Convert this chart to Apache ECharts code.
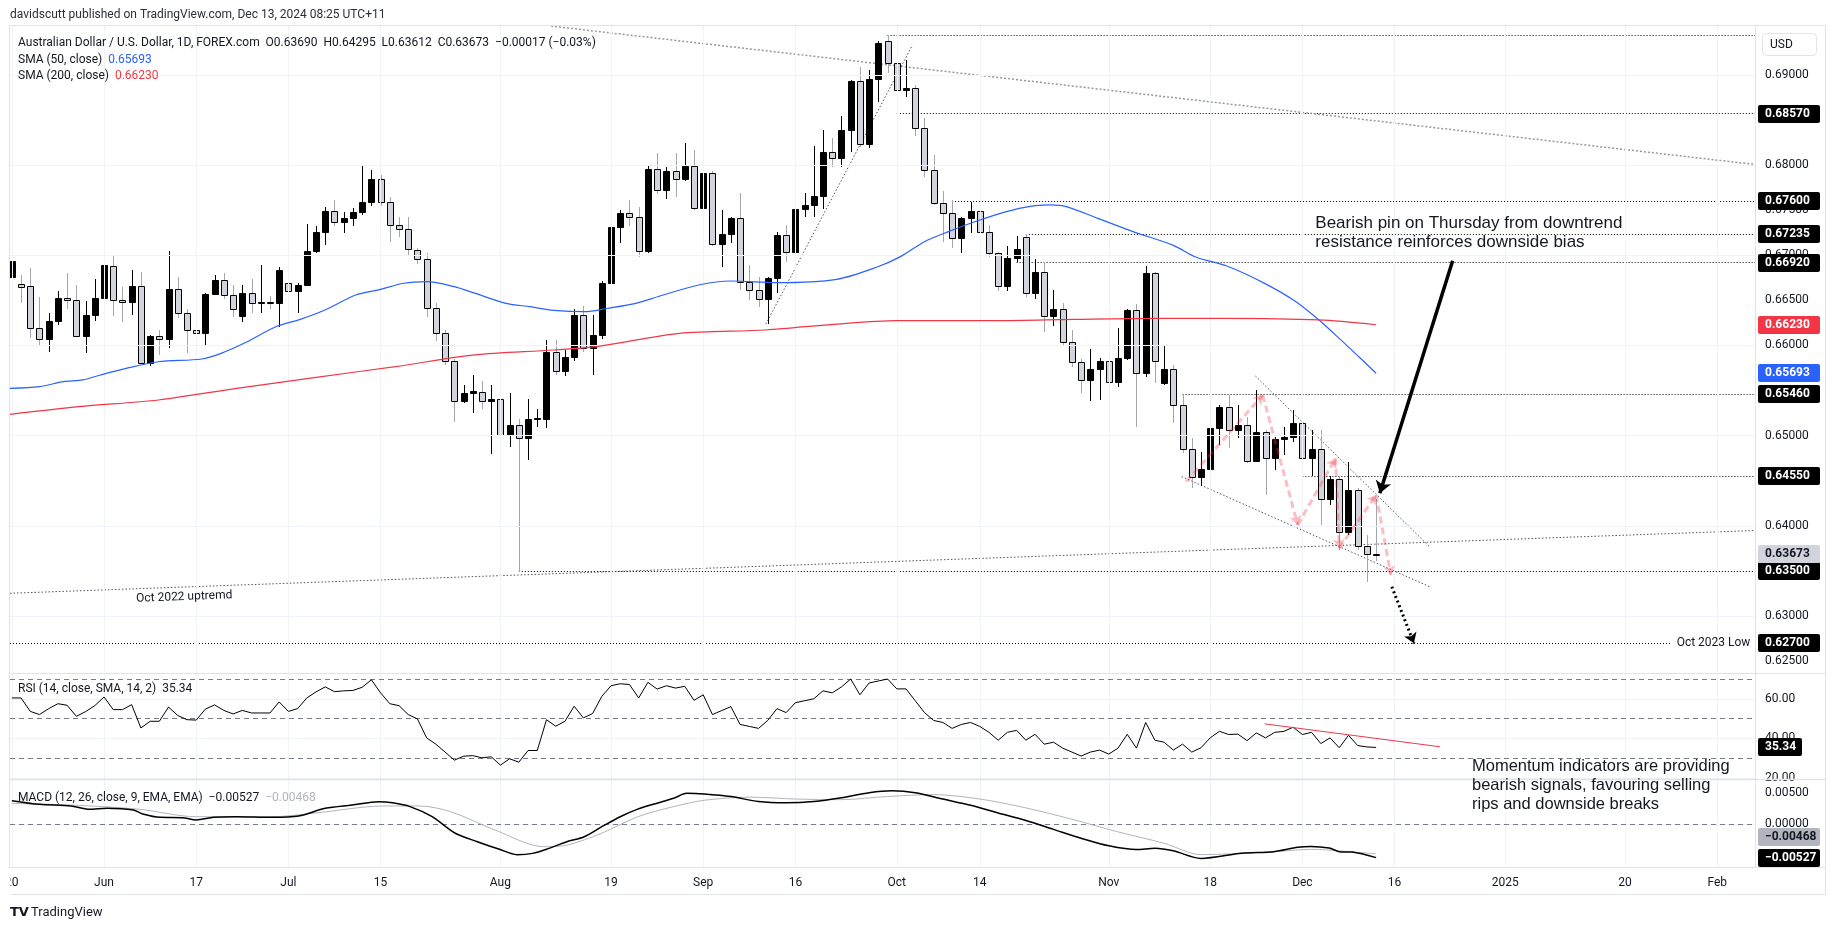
<!DOCTYPE html>
<html>
<head>
<meta charset="utf-8">
<script src="https://cdn.jsdelivr.net/npm/echarts@6/dist/echarts.min.js"></script>
<style>
html,body{margin:0;padding:0;background:#ffffff;}
#chart{width:1835px;height:931px;}
</style>
</head>
<body>
<div id="chart"></div>
<script>
// ---------------- DATA ----------------
// bar index 0 = Mon 3 Jun 2024 ; first visible bar = Mon 20 May 2024
const firstBar = -10;
const openP = [
0.6676,0.6668,0.6666,0.6619,0.6607,0.6627,0.6653,0.6650,0.6611,0.6634,
0.6653,0.6688,0.6650,0.6648,0.6666,0.6581,0.6610,0.6607,0.6663,0.6636,
0.6617,0.6614,0.6657,0.6673,0.6656,0.6633,0.6658,0.6647,0.6648,0.6647,
0.6669,0.6660,0.6667,0.6705,0.6726,0.6749,0.6737,0.6741,0.6748,0.6759,
0.6785,0.6759,0.6734,0.6729,0.6706,0.6696,0.6642,0.6614,0.6583,0.6538,
0.6547,0.6549,0.6538,0.6541,0.6501,0.6512,0.6497,0.6518,0.6519,0.6593,
0.6572,0.6587,0.6634,0.6597,0.6612,0.6669,0.6731,0.6747,0.6743,0.6705,
0.6796,0.6772,0.6794,0.6785,0.6799,0.6752,0.6791,0.6712,0.6724,0.6741,
0.6670,0.6662,0.6652,0.6675,0.6722,0.6704,0.6751,0.6756,0.6766,0.6814,
0.6808,0.6839,0.6893,0.6823,0.6896,0.6938,0.6913,0.6883,0.6885,0.6841,
0.6795,0.6758,0.6747,0.6719,0.6741,0.6749,0.6726,0.6703,0.6666,0.6697,
0.6720,0.6658,0.6682,0.6633,0.6640,0.6604,0.6582,0.6562,0.6574,0.6583,
0.6559,0.6586,0.6639,0.6570,0.6680,0.6558,0.6574,0.6534,0.6485,0.6454,
0.6463,0.6508,0.6532,0.6506,0.6512,0.6472,0.6504,0.6475,0.6496,0.6499,
0.6514,0.6475,0.6485,0.6430,0.6452,0.6393,0.6440,0.6378,0.63690];
const highP = [
0.6697,0.6678,0.6686,0.6654,0.6636,0.6660,0.6680,0.6667,0.6649,0.6674,
0.6695,0.6699,0.6665,0.6684,0.6681,0.6612,0.6617,0.6705,0.6676,0.6641,
0.6628,0.6658,0.6678,0.6680,0.6667,0.6667,0.6674,0.6689,0.6655,0.6687,
0.6689,0.6669,0.6735,0.6733,0.6754,0.6761,0.6748,0.6752,0.6799,0.6795,
0.6789,0.6765,0.6743,0.6743,0.6708,0.6702,0.6647,0.6617,0.6585,0.6556,
0.6567,0.6561,0.6556,0.6560,0.6547,0.6519,0.6541,0.6530,0.6606,0.6606,
0.6595,0.6640,0.6644,0.6634,0.6671,0.6735,0.6750,0.6761,0.6753,0.6799,
0.6813,0.6798,0.6813,0.6824,0.6817,0.6795,0.6793,0.6750,0.6743,0.6769,
0.6689,0.6676,0.6676,0.6726,0.6734,0.6754,0.6769,0.6821,0.6839,0.6830,
0.6854,0.6894,0.6909,0.6905,0.6938,0.6944,0.6925,0.6917,0.6889,0.6852,
0.6811,0.6771,0.6761,0.6743,0.6759,0.6754,0.6734,0.6704,0.6710,0.6721,
0.6724,0.6696,0.6693,0.6662,0.6647,0.6617,0.6585,0.6596,0.6586,0.6586,
0.6619,0.6641,0.6646,0.6688,0.6682,0.6599,0.6578,0.6546,0.6497,0.6482,
0.6512,0.6534,0.6545,0.6534,0.6521,0.6551,0.6506,0.6499,0.6510,0.6529,
0.6516,0.6506,0.6506,0.6455,0.6455,0.6471,0.6442,0.6390,0.64295];
const lowP = [
0.6668,0.6647,0.6608,0.6599,0.6593,0.6623,0.6640,0.6609,0.6592,0.6627,
0.6633,0.6633,0.6626,0.6634,0.6580,0.6577,0.6589,0.6597,0.6630,0.6592,
0.6586,0.6601,0.6656,0.6652,0.6632,0.6626,0.6636,0.6636,0.6640,0.6621,
0.6655,0.6636,0.6666,0.6703,0.6711,0.6733,0.6725,0.6733,0.6745,0.6755,
0.6755,0.6715,0.6720,0.6699,0.6690,0.6632,0.6605,0.6578,0.6515,0.6536,
0.6525,0.6530,0.6480,0.6490,0.6488,0.6349,0.6473,0.6510,0.6508,0.6567,
0.6566,0.6583,0.6593,0.6567,0.6607,0.6660,0.6714,0.6732,0.6698,0.6702,
0.6768,0.6762,0.6765,0.6782,0.6750,0.6750,0.6710,0.6687,0.6714,0.6661,
0.6650,0.6643,0.6624,0.6658,0.6693,0.6700,0.6742,0.6742,0.6751,0.6798,
0.6798,0.6815,0.6820,0.6819,0.6870,0.6902,0.6857,0.6876,0.6832,0.6787,
0.6756,0.6715,0.6708,0.6702,0.6725,0.6703,0.6698,0.6660,0.6660,0.6693,
0.6654,0.6652,0.6615,0.6622,0.6600,0.6576,0.6547,0.6538,0.6540,0.6554,
0.6554,0.6584,0.6510,0.6565,0.6558,0.6556,0.6514,0.6481,0.6442,0.6444,
0.6449,0.6490,0.6486,0.6497,0.6470,0.6471,0.6434,0.6462,0.6479,0.6493,
0.6443,0.6455,0.6401,0.6423,0.6373,0.6390,0.6373,0.6338,0.63612];
const closeP = [
0.6694,0.6665,0.6619,0.6607,0.6627,0.6653,0.6650,0.6611,0.6634,0.6653,
0.6689,0.6650,0.6648,0.6666,0.6581,0.6610,0.6607,0.6663,0.6636,0.6617,
0.6614,0.6657,0.6673,0.6656,0.6641,0.6658,0.6647,0.6648,0.6647,0.6684,
0.6660,0.6667,0.6705,0.6726,0.6749,0.6737,0.6741,0.6748,0.6759,0.6785,
0.6759,0.6734,0.6729,0.6707,0.6696,0.6642,0.6614,0.6583,0.6538,0.6547,
0.6550,0.6538,0.6541,0.6501,0.6512,0.6497,0.6519,0.6520,0.6593,0.6572,
0.6587,0.6634,0.6597,0.6612,0.6669,0.6731,0.6747,0.6743,0.6705,0.6796,
0.6772,0.6794,0.6785,0.6799,0.6752,0.6791,0.6712,0.6724,0.6741,0.6670,
0.6662,0.6652,0.6675,0.6722,0.6704,0.6751,0.6756,0.6766,0.6815,0.6808,
0.6839,0.6893,0.6823,0.6896,0.6935,0.6913,0.6883,0.6885,0.6841,0.6795,
0.6758,0.6747,0.6719,0.6741,0.6749,0.6726,0.6703,0.6666,0.6697,0.6707,
0.6658,0.6682,0.6633,0.6640,0.6604,0.6582,0.6562,0.6574,0.6583,0.6559,
0.6586,0.6639,0.6570,0.6680,0.6583,0.6574,0.6534,0.6485,0.6454,0.6463,
0.6508,0.6532,0.6506,0.6512,0.6472,0.6504,0.6475,0.6496,0.6499,0.6514,
0.6475,0.6485,0.6430,0.6452,0.6393,0.6440,0.6378,0.6369,0.63673];

// moving averages, read as [bar, value]
const sma50 = [[-10.2,0.65525],[-7,0.65544],[-4.4,0.6560],[-2.3,0.65618],[-0.5,0.6567],[2.4,0.65747],[5.9,0.6582],[10.6,0.6585],[12.7,0.65913],[15.3,0.6603],[18.7,0.6621],[21.3,0.6629],[23.9,0.6639],[27.3,0.6656],[29.9,0.6662],[32.5,0.6669],[35,0.66708],[38,0.66652],[40.2,0.6658],[43.6,0.66467],[46.2,0.6643],[48.8,0.6639],[52.2,0.66375],[54.5,0.6641],[57.7,0.66467],[60.3,0.66549],[64.5,0.66671],[68,0.66715],[73.1,0.66697],[79.5,0.66734],[83.8,0.66867],[86.4,0.66985],[89,0.67151],[91.6,0.67262],[95,0.67391],[99.3,0.6752],[102.7,0.67558],[104.4,0.6754],[107.8,0.6741],[111.7,0.6726],[116,0.6711],[118.5,0.66978],[121.8,0.66881],[125.9,0.66689],[129.3,0.66486],[131.8,0.66283],[134.2,0.6606],[136.3,0.65858],[138,0.65693]];
const sma200 = [[-10.2,0.65237],[-2.7,0.65322],[5.9,0.65396],[14.4,0.65525],[23,0.65647],[31.6,0.65766],[40.2,0.65895],[48.8,0.6595],[53.8,0.65994],[62.4,0.66135],[71.8,0.66172],[79.5,0.66238],[86,0.66275],[96.7,0.66275],[105.3,0.6629],[113.9,0.66301],[121.8,0.66301],[131.8,0.66283],[138,0.6623]];

// RSI(14) one value per bar
const rsiVals = [
60.4,60.4,53.6,52.0,55.0,57.5,56.7,51.1,53.5,56.5,
60.9,54.5,54.5,57.0,45.2,48.6,48.6,55.8,51.5,49.4,
49.2,54.8,56.9,54.1,52.3,54.1,52.8,52.8,52.8,58.4,
53.6,55.0,60.4,63.5,66.0,63.6,64.0,64.2,65.8,69.6,
63.0,57.5,56.5,52.0,49.8,40.2,37.0,33.0,28.9,30.9,
31.2,30.1,30.6,26.4,29.6,27.9,33.8,33.8,49.4,46.1,
48.6,56.2,50.3,52.5,61.2,66.6,67.6,67.2,60.4,68.3,
64.9,66.6,65.4,66.3,59.2,62.0,52.0,54.0,56.0,47.0,
46.0,45.0,49.0,55.0,53.0,58.0,59.0,60.0,64.0,63.0,
66.0,70.0,62.0,68.0,69.0,70.0,65.0,65.0,59.0,53.0,
49.0,48.0,45.0,47.0,48.0,46.0,43.0,39.0,43.0,44.0,
39.0,42.0,37.0,38.0,35.0,33.0,31.0,33.0,34.0,32.0,
35.0,42.0,35.0,48.0,39.0,38.0,34.0,37.0,33.0,35.2,
40.2,43.5,41.9,42.1,38.8,42.7,40.2,43.0,43.5,45.6,
41.9,43.0,37.3,40.2,35.2,41.5,36.3,35.6,35.34];

// MACD (12,26,9) line and signal, read as [bar, value]
const macdLine = [[-10,0.00374],[-7,0.00316],[-3.6,0.0029],[-1.6,0.00237],[0.3,0.00253],[3.2,0.00226],[4.2,0.00163],[6.1,0.0011],[8.5,0.00105],[10,0.00068],[11.9,0.0011],[14.3,0.0012],[18.2,0.0011],[21.1,0.0013],[24,0.00253],[26.9,0.00305],[29.8,0.00358],[31.3,0.0034],[33.2,0.0028],[35.6,0.0012],[38.1,-0.00142],[40.5,-0.00275],[42.9,-0.00396],[44.8,-0.0048],[46.5,-0.0046],[48,-0.00396],[50.2,-0.00275],[52.1,-0.00196],[54,-0.00038],[56,0.0012],[57.9,0.0024],[59.9,0.0033],[61.8,0.00411],[63.2,0.0049],[65.1,0.0048],[68,0.0044],[71,0.0036],[74,0.0034],[77,0.0036],[80,0.0042],[83,0.0050],[85.5,0.0053],[88,0.0050],[91,0.0040],[94,0.0030],[97,0.0018],[100,0.0006],[103,-0.0008],[106,-0.0022],[109,-0.0034],[112,-0.0040],[114,-0.0038],[116,-0.0042],[119,-0.0054],[123.4,-0.00459],[126.9,-0.00433],[129.5,-0.00364],[130.9,-0.0035],[132.9,-0.00375],[134,-0.00433],[135.4,-0.0044],[138,-0.00527]];
const macdSignal = [[-10,0.0033],[-3.6,0.00305],[3.7,0.0024],[10,0.0012],[18.2,0.0012],[23,0.0018],[30.3,0.0029],[34.2,0.0029],[37.6,0.0020],[42.4,-0.0009],[47.7,-0.00354],[50.2,-0.0033],[54,-0.0014],[57.9,0.0012],[61.8,0.0028],[65.1,0.0038],[70,0.0043],[75,0.0040],[80,0.0039],[85,0.0044],[90,0.0047],[95,0.0040],[100,0.0026],[105,0.0008],[110,-0.0012],[115,-0.0030],[119,-0.0048],[123.4,-0.0046],[127,-0.00433],[131,-0.00396],[134,-0.0042],[138,-0.00468]];

// axis ticks
const xTickBars = [-10,0,10,20,30,43,55,65,75,86,95,109,120,130,140,152,165,175];
const xTickLabels = ['20','Jun','17','Jul','15','Aug','19','Sep','16','Oct','14','Nov','18','Dec','16','2025','20','Feb'];
const priceTicks = [0.625,0.63,0.635,0.64,0.645,0.65,0.655,0.66,0.665,0.67,0.675,0.68,0.685,0.69];
const rsiTicks = [20,40,60];
const rsiLevels = [70,50,30];
const macdTicks = [0.005,0,-0.005];

// horizontal levels drawn by the author: price and first bar
const levelPrices = [0.6944,0.6857,0.6760,0.67235,0.6692,0.6546,0.6455,0.6350,0.6270];
const levelFrom   = [85,86,92,100,99,117,130,45,-10.2];
const levelTo     = [179.1,179.1,179.1,179.1,179.1,179.1,179.1,179.1,169.9];
const levelLabels = ['', '0.68570','0.67600','0.67235','0.66920','0.65460','0.64550','0.63500','0.62700'];

// trend lines [bar, price]
const downtrendLine = [[48.5,0.69541],[179.1,0.68007]];
const oct2022Line = [[-10.2,0.63253],[179.1,0.63949]];
const septLine = [[71.8,0.66238],[87.7,0.69331]];
const wedgeUpper = [[124.9,0.65662],[143.8,0.63769]];
const wedgeLower = [[116.9,0.64546],[143.8,0.63326]];
const zigzag = [[117.4,0.6449],[125.7,0.65451],[129.5,0.6401],[133.6,0.64749],[134.0,0.63752],[138.0,0.64343],[139.6,0.63456]];
const pinArrow = [[146.3,0.6694],[138.4,0.64361]];
const targetArrow = [[139.7,0.63326],[142.1,0.62698]];
const rsiTrend = [[125.9,47.3],[144.9,35.7]];

// ---------------- CHART ----------------
const chart = echarts.init(document.getElementById('chart'), null, {renderer:'canvas'});
const XMIN = -10.2, XMAX = 179.1;
const FONT = 'Roboto, "Noto Sans", sans-serif';
const ANN = '"Liberation Sans", Arial, sans-serif';
const GRIDC = '#f0f3fa';

const candleData = openP.map((o,k)=>[firstBar+k, o, closeP[k], lowP[k], highP[k]]);
const rsiData = rsiVals.map((v,k)=>[firstBar+k, v]);

function gridMark(yVals){
  return {silent:true, symbol:['none','none'], label:{show:false}, animation:false,
    lineStyle:{color:GRIDC, width:1, type:'solid'},
    data: xTickBars.map(v=>({xAxis:v})).concat(yVals.map(v=>({yAxis:v})))};
}
function seg(a,b){ return {coords:[a,b]}; }

const option = {
  animation:false,
  backgroundColor:'#ffffff',
  grid:[
    {left:10, top:26, width:1745, height:647},
    {left:10, top:673, width:1745, height:106},
    {left:10, top:779, width:1745, height:88}
  ],
  xAxis:[0,1,2].map(g=>({
    type:'value', gridIndex:g, min:XMIN, max:XMAX,
    axisLine:{show:false}, axisTick:{show:false}, splitLine:{show:false},
    axisLabel: g===2 ? {show:true, customValues:xTickBars,
      formatter:(v)=>{const k=xTickBars.indexOf(v); return k>=0?xTickLabels[k]:'';},
      color:'#131722', fontSize:12, fontFamily:FONT, margin:10} : {show:false}
  })),
  yAxis:[
    {type:'value', gridIndex:0, position:'right', min:0.623692, max:0.695421, scale:true,
     axisLine:{show:false}, axisTick:{show:false}, splitLine:{show:false},
     axisLabel:{customValues:priceTicks, formatter:v=>v.toFixed(5), color:'#131722', fontSize:12, fontFamily:FONT, margin:10}},
    {type:'value', gridIndex:1, position:'right', min:19.37, max:73.04,
     axisLine:{show:false}, axisTick:{show:false}, splitLine:{show:false},
     axisLabel:{customValues:rsiTicks, formatter:v=>v.toFixed(2), color:'#131722', fontSize:12, fontFamily:FONT, margin:10}},
    {type:'value', gridIndex:2, position:'right', min:-0.006756, max:0.007168,
     axisLine:{show:false}, axisTick:{show:false}, splitLine:{show:false},
     axisLabel:{customValues:macdTicks, formatter:v=>v.toFixed(5), color:'#131722', fontSize:12, fontFamily:FONT, margin:10}}
  ],
  series:[
    // grid lines
    {type:'line', xAxisIndex:0, yAxisIndex:0, data:[], z:1, markLine:gridMark(priceTicks.concat([0.695]))},
    {type:'line', xAxisIndex:1, yAxisIndex:1, data:[], z:1, markLine:gridMark(rsiTicks)},
    {type:'line', xAxisIndex:2, yAxisIndex:2, data:[], z:1, markLine:gridMark(macdTicks)},
    // author's level lines
    {type:'lines', coordinateSystem:'cartesian2d', xAxisIndex:0, yAxisIndex:0, z:3, silent:true,
     lineStyle:{color:'#000000', width:1, type:[1,2], opacity:1},
     data: levelPrices.map((p,k)=>seg([levelFrom[k],p],[levelTo[k],p]))},
    // grey trend lines
    {type:'lines', coordinateSystem:'cartesian2d', xAxisIndex:0, yAxisIndex:0, z:3, silent:true,
     lineStyle:{color:'#9598a1', width:1.5, type:[2,2], opacity:1},
     data:[seg(downtrendLine[0],downtrendLine[1])]},
    {type:'lines', coordinateSystem:'cartesian2d', xAxisIndex:0, yAxisIndex:0, z:3, silent:true,
     lineStyle:{color:'#50535e', width:1, type:[1.5,2], opacity:1},
     data:[seg(oct2022Line[0],oct2022Line[1]), seg(septLine[0],septLine[1]), seg(wedgeUpper[0],wedgeUpper[1]), seg(wedgeLower[0],wedgeLower[1])]},
    // candles
    {type:'custom', xAxisIndex:0, yAxisIndex:0, z:4, clip:true, silent:true,
     data:candleData, encode:{x:0, y:[1,2,3,4]},
     renderItem:(params, api)=>{
       const i=api.value(0), o=api.value(1), c=api.value(2), l=api.value(3), h=api.value(4);
       const up = c>=o;
       const pO=api.coord([i,o]), pC=api.coord([i,c]), pL=api.coord([i,l]), pH=api.coord([i,h]);
       const cx=Math.round(pO[0]);
       const top=Math.round(Math.min(pO[1],pC[1]))+0.5, bot=Math.round(Math.max(pO[1],pC[1]))+0.5;
       return {type:'group', children:[
         {type:'line', shape:{x1:cx+0.5,y1:Math.round(pH[1]),x2:cx+0.5,y2:Math.round(pL[1])}, style:{stroke: up?'#000000':'#a3a6af', lineWidth:1}},
         {type:'rect', shape:{x:cx-2.5, y:top, width:6, height:Math.max(bot-top,0)}, style:{fill: up?'#000000':'#d1d4dc', stroke:'#000000', lineWidth:1}}
       ]};
     }},
    // SMAs
    {type:'line', xAxisIndex:0, yAxisIndex:0, z:5, data:sma50, symbol:'none', smooth:0.3, silent:true, lineStyle:{color:'#2962ff', width:1.2}},
    {type:'line', xAxisIndex:0, yAxisIndex:0, z:5, data:sma200, symbol:'none', smooth:0.3, silent:true, lineStyle:{color:'#f23645', width:1.2}},
    // pink zigzag
    {type:'lines', coordinateSystem:'cartesian2d', xAxisIndex:0, yAxisIndex:0, z:6, silent:true,
     symbol:['none','arrow'], symbolSize:9,
     lineStyle:{color:'rgba(242,54,69,0.32)', width:3, type:[7,4], opacity:1},
     data: zigzag.slice(0,-1).map((p,k)=>seg(p, zigzag[k+1]))},
    // black arrow
    {type:'lines', coordinateSystem:'cartesian2d', xAxisIndex:0, yAxisIndex:0, z:7, silent:true,
     symbol:['none','arrow'], symbolSize:12,
     lineStyle:{color:'#000000', width:3.5, opacity:1},
     data:[seg(pinArrow[0],pinArrow[1])]},
    // dotted target arrow
    {type:'lines', coordinateSystem:'cartesian2d', xAxisIndex:0, yAxisIndex:0, z:7, silent:true,
     symbol:['none','arrow'], symbolSize:10,
     lineStyle:{color:'#000000', width:3, type:[2,3], opacity:1},
     data:[seg(targetArrow[0],targetArrow[1])]},
    // RSI
    {type:'line', xAxisIndex:1, yAxisIndex:1, z:5, data:rsiData, symbol:'none', silent:true,
     lineStyle:{color:'#000000', width:1},
     markLine:{silent:true, symbol:['none','none'], label:{show:false},
       lineStyle:{color:'#787b86', width:1, type:[5,4]}, data: rsiLevels.map(v=>({yAxis:v}))}},
    {type:'lines', coordinateSystem:'cartesian2d', xAxisIndex:1, yAxisIndex:1, z:6, silent:true,
     lineStyle:{color:'#f23645', width:1, opacity:1}, data:[seg(rsiTrend[0],rsiTrend[1])]},
    // MACD
    {type:'line', xAxisIndex:2, yAxisIndex:2, z:5, data:macdSignal, symbol:'none', smooth:0.3, silent:true,
     lineStyle:{color:'#b2b5be', width:1},
     markLine:{silent:true, symbol:['none','none'], label:{show:false},
       lineStyle:{color:'#787b86', width:1, type:[5,4]}, data:[{yAxis:0}]}},
    {type:'line', xAxisIndex:2, yAxisIndex:2, z:6, data:macdLine, symbol:'none', smooth:0.3, silent:true,
     lineStyle:{color:'#000000', width:1.5}}
  ]
};
chart.setOption(option);

// ---------------- overlay texts / price-scale tags ----------------
const g = [];
const py = (ax,v)=>chart.convertToPixel({yAxisIndex:ax}, v);
const pt = (grid,xy)=>chart.convertToPixel({gridIndex:grid}, xy);

function tag(ax, v, text, bg, fg, dy, w){
  const y = Math.round(py(ax,v)) + (dy||0);
  g.push({type:'rect', z:100, shape:{x:1758, y:y-9, width:w||62, height:18, r:2}, style:{fill:bg}});
  g.push({type:'text', z:101, x:1765, y:y, style:{text:text, fill:fg, font:'bold 12px '+FONT, align:'left', verticalAlign:'middle', textAlign:'left', textVerticalAlign:'middle'}});
}
function txt(x,y,text,font,fill,extra){
  g.push(Object.assign({type:'text', z:102, x:x, y:y, style:Object.assign({text:text, fill:fill||'#131722', font:font, align:'left', verticalAlign:'middle', textAlign:'left', textVerticalAlign:'middle'}, extra||{})}));
}

// chart frame & pane separators
const frame = '#e0e3eb';
g.push({type:'rect', z:90, shape:{x:9.5, y:25.5, width:1816, height:869}, style:{fill:'none', stroke:frame, lineWidth:1}});
g.push({type:'line', z:90, shape:{x1:9.5,y1:673.5,x2:1825.5,y2:673.5}, style:{stroke:frame, lineWidth:1}});
g.push({type:'line', z:90, shape:{x1:9.5,y1:779.5,x2:1825.5,y2:779.5}, style:{stroke:frame, lineWidth:1.5}});
g.push({type:'line', z:90, shape:{x1:9.5,y1:867.5,x2:1825.5,y2:867.5}, style:{stroke:frame, lineWidth:1}});
g.push({type:'line', z:90, shape:{x1:1755.5,y1:25.5,x2:1755.5,y2:867.5}, style:{stroke:frame, lineWidth:1}});
g.push({type:'rect', z:95, shape:{x:0, y:868, width:10.5, height:30}, style:{fill:'#ffffff'}});

// price tags
for (let k=1;k<levelPrices.length;k++) tag(0, levelPrices[k], levelLabels[k], '#000000', '#ffffff');
tag(0, 0.66230, '0.66230', '#f23645', '#ffffff');
tag(0, 0.65693, '0.65693', '#2962ff', '#ffffff');
tag(0, 0.63673, '0.63673', '#d1d4dc', '#131722', -1);
tag(1, 35.34, '35.34', '#000000', '#ffffff', 0, 44);
tag(2, -0.00468, '\u22120.00468', '#b2b5be', '#131722', -17);
tag(2, -0.00527, '\u22120.00527', '#000000', '#ffffff');

// USD box
g.push({type:'rect', z:100, shape:{x:1762.5, y:33.5, width:54, height:22, r:4}, style:{fill:'#ffffff', stroke:'#e0e3eb', lineWidth:1}});
txt(1770, 45, 'USD', '12px '+FONT, '#131722');

// header and legends
txt(10, 15, 'davidscutt published on TradingView.com, Dec 13, 2024 08:25 UTC+11', '12px '+FONT, '#2a2e39');
txt(18, 43, 'Australian Dollar / U.S. Dollar, 1D, FOREX.com  O0.63690  H0.64295  L0.63612  C0.63673  \u22120.00017 (\u22120.03%)', '12px '+FONT, '#131722');
g.push({type:'text', z:102, x:18, y:59.5, style:{text:'SMA (50, close)  {b|0.65693}', font:'12px '+FONT, fill:'#131722', verticalAlign:'middle', textVerticalAlign:'middle', rich:{b:{fill:'#2962ff', font:'12px '+FONT}}}});
g.push({type:'text', z:102, x:18, y:76, style:{text:'SMA (200, close)  {r|0.66230}', font:'12px '+FONT, fill:'#131722', verticalAlign:'middle', textVerticalAlign:'middle', rich:{r:{fill:'#f23645', font:'12px '+FONT}}}});
txt(18, 688.5, 'RSI (14, close, SMA, 14, 2)  35.34', '12px '+FONT, '#131722');
g.push({type:'text', z:102, x:18, y:797.5, style:{text:'MACD (12, 26, close, 9, EMA, EMA)  {k|\u22120.00527}  {gr|\u22120.00468}', font:'12px '+FONT, fill:'#131722', verticalAlign:'middle', textVerticalAlign:'middle', rich:{k:{fill:'#131722', font:'12px '+FONT}, gr:{fill:'#b2b5be', font:'12px '+FONT}}}});

// logo
txt(10, 913, 'TV', 'bold 13px "DejaVu Sans"', '#131722');
txt(31, 913, 'TradingView', '13px '+FONT, '#131722');

// annotations
const pUp = pt(0,[8.7,0.63212]);
g.push({type:'text', z:102, x:pUp[0], y:pUp[1], rotation:0.036, style:{text:'Oct 2022 uptremd', font:'12px '+FONT, fill:'#131722', align:'center', verticalAlign:'middle', textAlign:'center', textVerticalAlign:'middle'}});
const pLow = pt(0,[170.6,0.6270]);
txt(pLow[0], pLow[1], 'Oct 2023 Low', '12px '+FONT, '#131722');
const pBear = pt(0,[131.4,0.67355]);
g.push({type:'text', z:102, x:pBear[0], y:pBear[1]-10, style:{text:'Bearish pin on Thursday from downtrend\nresistance reinforces downside bias', font:'17px '+ANN, fill:'#131722', lineHeight:19.5, align:'left', verticalAlign:'top', textAlign:'left', textVerticalAlign:'top'}});
const pMom = pt(1,[148.4,25.6]);
g.push({type:'text', z:102, x:pMom[0], y:pMom[1]-10, style:{text:'Momentum indicators are providing\nbearish signals, favouring selling\nrips and downside breaks', font:'16.5px '+ANN, fill:'#131722', lineHeight:19.3, align:'left', verticalAlign:'top', textAlign:'left', textVerticalAlign:'top'}});

chart.setOption({graphic:{elements:g}});
</script>
</body>
</html>
